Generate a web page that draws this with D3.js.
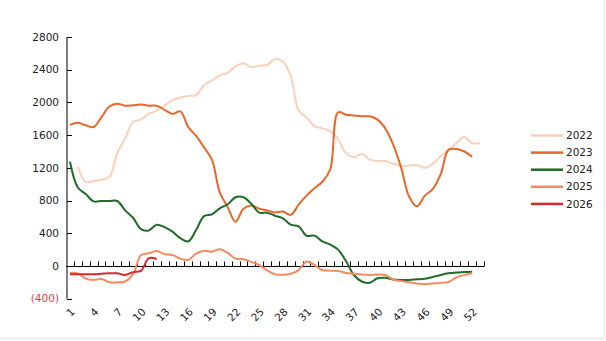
<!DOCTYPE html>
<html><head><meta charset="utf-8">
<script src="https://cdn.jsdelivr.net/npm/d3@7"></script>
<style>body{margin:0;background:#fff}svg{display:block;font-family:"DejaVu Sans",sans-serif}</style>
</head><body><svg id="c" width="606" height="341"></svg>
<script>
const weeks = d3.range(1, 54);
const years = ["2022","2023","2024","2025","2026"];
const yTicks = [-400,0,400,800,1200,1600,2000,2400,2800];
const xTickLabels = [1,4,7,10,13,16,19,22,25,28,31,34,37,40,43,46,49,52];
const colors = ["#fad0b9","#e9672a","#1f6b27","#f88a60","#d62a2e"];

const s2022 = [null,1214,1030,1040,1055,1090,1380,1560,1760,1790,1860,1900,1960,2030,2060,2080,2090,2210,2270,2330,2363,2440,2480,2430,2450,2458,2530,2500,2320,1900,1820,1710,1683,1650,1550,1380,1330,1370,1300,1285,1284,1250,1223,1230,1235,1200,1250,1340,1420,1500,1580,1500,1508];
const s2023 = [1725,1750,1720,1700,1820,1950,1985,1960,1965,1975,1960,1960,1910,1860,1890,1700,1590,1450,1300,900,720,540,700,740,700,680,655,665,625,750,860,950,1030,1180,1880,1850,1840,1830,1830,1790,1680,1480,1200,850,730,860,940,1120,1420,1430,1400,1337];
const s2024 = [1275,960,880,790,795,795,795,680,590,450,435,505,475,420,340,300,440,610,632,705,755,840,840,760,652,652,615,583,505,485,370,371,300,262,200,60,-110,-190,-205,-150,-145,-165,-171,-171,-163,-155,-135,-110,-90,-80,-75,-69];
const s2025 = [-86,-90,-155,-170,-160,-200,-200,-190,-100,130,155,183,143,135,90,75,150,185,175,205,160,90,82,50,10,-55,-100,-108,-95,-50,55,12,-49,-57,-62,-85,-95,-105,-110,-105,-110,-165,-185,-200,-215,-222,-214,-208,-195,-140,-110,-90];
const s2026 = [-100,-100,-100,-100,-95,-90,-90,-110,-75,-60,95,85];
const seriesData = [s2022,s2023,s2024,s2025,s2026];

const svg = d3.select("#c");
const x = d3.scaleBand().domain(weeks).range([66, 484]);
const y = d3.scaleLinear().domain([-400, 2800]).range([298.7, 37]);
const cx = w => x(w) + x.bandwidth()/2;

// frame
svg.append("line").attr("x1",604.5).attr("x2",604.5).attr("y1",0).attr("y2",338.5).attr("stroke","#f1e6f6").attr("stroke-width",1.5);
svg.append("line").attr("x1",0).attr("x2",604.5).attr("y1",338.5).attr("y2",338.5).attr("stroke","#f1e6f6").attr("stroke-width",1.5);

// y axis
const ya = svg.append("g");
ya.append("line").attr("x1",67).attr("x2",67).attr("y1",y(2800)).attr("y2",y(-400)).attr("stroke","#000");
yTicks.forEach(t=>{
  ya.append("line").attr("x1",67).attr("x2",72).attr("y1",Math.round(y(t))+0.5).attr("y2",Math.round(y(t))+0.5).attr("stroke","#000");
  ya.append("text").attr("x",59).attr("y",y(t)).attr("dy","0.35em").attr("text-anchor","end")
    .attr("font-size",10.5).attr("fill", t<0 ? "#e8434a" : "#222")
    .text(t<0 ? "(" + d3.format("d")(-t) + ")" : d3.format("d")(t));
});

// x axis at zero
const xa = svg.append("g");
const y0 = Math.round(y(0))+0.5;
xa.append("line").attr("x1",66).attr("x2",484).attr("y1",y0).attr("y2",y0).attr("stroke","#000");
weeks.forEach(w=>{
  const bx = Math.round(x(w)+x.bandwidth())+0.5;
  xa.append("line").attr("x1",bx).attr("x2",bx).attr("y1",y0).attr("y2",y0-5).attr("stroke","#000");
});
xTickLabels.forEach(w=>{
  xa.append("text").attr("transform",`translate(${cx(w)+3},${310}) rotate(-45)`)
    .attr("text-anchor","end").attr("dy","0.35em").attr("font-size",10.5).attr("fill","#222").text(w);
});

// lines
const line = d3.line().defined(d=>d[1]!=null).x(d=>cx(d[0])).y(d=>y(d[1])).curve(d3.curveCatmullRom.alpha(0.5));
seriesData.forEach((s,i)=>{
  const pts = s.map((v,j)=>[weeks[j],v]);
  svg.append("path").attr("d",line(pts)).attr("fill","none").attr("stroke",colors[i]).attr("stroke-width",2);
});

// legend
years.forEach((yr,i)=>{
  const ly = 135.5 + i*17.1;
  svg.append("line").attr("x1",531).attr("x2",563).attr("y1",ly).attr("y2",ly).attr("stroke",colors[i]).attr("stroke-width",2.5);
  svg.append("text").attr("x",566).attr("y",ly).attr("dy","0.35em").attr("font-size",10.5).attr("fill","#222").text(yr);
});
</script></body></html>
